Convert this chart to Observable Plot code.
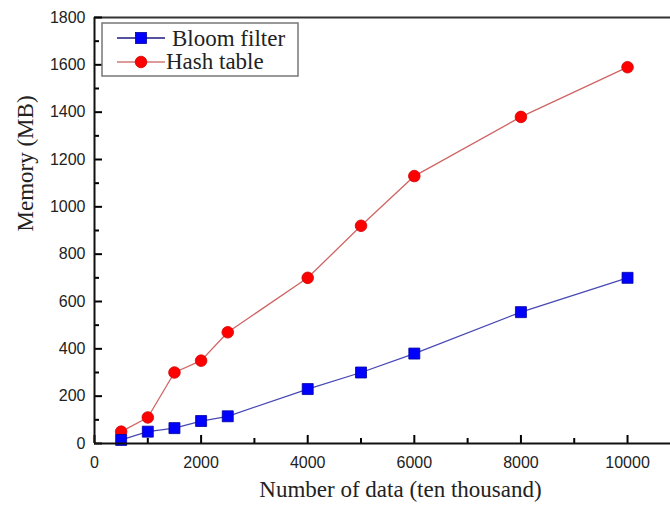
<!DOCTYPE html>
<html>
<head>
<meta charset="utf-8">
<script src="https://cdn.jsdelivr.net/npm/d3@7"></script>
<script src="https://cdn.jsdelivr.net/npm/@observablehq/plot@0.6"></script>
<style>
  html, body { margin: 0; padding: 0; background: #fff; }
  #chart svg { display: block; }
</style>
</head>
<body>
<div id="chart"></div>
<script>
// ---- data ----
const dataSizes = [500, 1000, 1500, 2000, 2500, 4000, 5000, 6000, 8000, 10000];
const bloomMemory = [15, 50, 65, 95, 115, 230, 300, 380, 555, 700];
const hashMemory = [50, 110, 300, 350, 470, 700, 920, 1130, 1380, 1590];
const seriesNames = ["Bloom filter", "Hash table"];
const xMajorTicks = [0, 2000, 4000, 6000, 8000, 10000];
const xMinorTicks = [1000, 3000, 5000, 7000, 9000];
const yMajorTicks = [0, 200, 400, 600, 800, 1000, 1200, 1400, 1600, 1800];
const yMinorTicks = [100, 300, 500, 700, 900, 1100, 1300, 1500, 1700];
const xTitle = "Number of data (ten thousand)";
const yTitle = "Memory (MB)";

const bloom = dataSizes.map((x, i) => ({x, y: bloomMemory[i]}));
const hash = dataSizes.map((x, i) => ({x, y: hashMemory[i]}));

const serif = "'Liberation Serif', 'Times New Roman', serif";
const sans = "'Liberation Sans', Arial, sans-serif";

const bloomLine = "#4848b4";
const hashLine = "#d06464";

const W = 670, H = 506, ML = 94, MR = 0, MT = 17, MB = 63;
const frameW = W - ML - MR, frameH = H - MT - MB;

const chart = Plot.plot({
  width: W,
  height: H,
  marginLeft: ML,
  marginRight: MR,
  marginTop: MT,
  marginBottom: MB,
  x: {domain: [0, 10806]},
  y: {domain: [0, 1800]},
  marks: [
    Plot.ruleY([1800], {stroke: "#333", strokeWidth: 2}),
    // inward ticks
    Plot.tickX(xMajorTicks, {x: d => d, stroke: "#000", strokeWidth: 2, insetTop: frameH - 8}),
    Plot.tickX(xMinorTicks, {x: d => d, stroke: "#000", strokeWidth: 2, insetTop: frameH - 5}),
    Plot.tickY(yMajorTicks, {y: d => d, stroke: "#000", strokeWidth: 2, insetRight: frameW - 8}),
    Plot.tickY(yMinorTicks, {y: d => d, stroke: "#000", strokeWidth: 2, insetRight: frameW - 5}),
    // tick labels
    Plot.axisX(xMajorTicks, {tickSize: 0, tickPadding: 13, tickFormat: d => String(d), fontSize: 16, fontFamily: sans, fill: "#222", label: null}),
    Plot.axisY(yMajorTicks, {tickSize: 0, tickPadding: 9, tickFormat: d => String(d), fontSize: 16, fontFamily: sans, fill: "#222", label: null}),
    // axis titles
    Plot.text([xTitle], {frameAnchor: "bottom", dx: 18, dy: 53, fontSize: 23, fontFamily: serif, fill: "#222"}),
    Plot.text([yTitle], {frameAnchor: "left", rotate: -90, dx: -69, dy: 1, fontSize: 23, fontFamily: serif, fill: "#222"}),
    // series
    Plot.line(hash, {x: "x", y: "y", stroke: hashLine, strokeWidth: 1.3}),
    Plot.line(bloom, {x: "x", y: "y", stroke: bloomLine, strokeWidth: 1.3}),
    Plot.dot(hash, {x: "x", y: "y", symbol: "circle", r: 5.8, fill: "#ff0000", stroke: "#d00000", strokeWidth: 0.8}),
    Plot.dot(bloom, {x: "x", y: "y", symbol: "square", r: 6.2, fill: "#0000ff", stroke: "#0000a0", strokeWidth: 0.8}),
    // axis lines
    Plot.ruleX([0], {stroke: "#111", strokeWidth: 2}),
    Plot.ruleY([0], {stroke: "#111", strokeWidth: 2})
  ]
});

// ---- legend ----
const svg = d3.select(chart);
const lg = svg.append("g").attr("text-anchor", "start");
lg.append("rect").attr("x", 102).attr("y", 23).attr("width", 196).attr("height", 53)
  .attr("fill", "#fff").attr("stroke", "#777").attr("stroke-width", 1.5);
lg.append("line").attr("x1", 117).attr("x2", 165).attr("y1", 38).attr("y2", 38)
  .attr("stroke", "#1a1a80").attr("stroke-width", 1.3);
lg.append("rect").attr("x", 141 - 5.5).attr("y", 38 - 5.5).attr("width", 11).attr("height", 11)
  .attr("fill", "#0000ff").attr("stroke", "#0000a0").attr("stroke-width", 0.8);
lg.append("text").attr("x", 172).attr("y", 46).attr("text-anchor", "start").text(seriesNames[0])
  .attr("font-family", serif).attr("font-size", 23).attr("fill", "#222");
lg.append("line").attr("x1", 117).attr("x2", 165).attr("y1", 62).attr("y2", 62)
  .attr("stroke", "#d07878").attr("stroke-width", 1.3);
lg.append("circle").attr("cx", 141).attr("cy", 62).attr("r", 5.8)
  .attr("fill", "#ff0000").attr("stroke", "#d00000").attr("stroke-width", 0.8);
lg.append("text").attr("x", 166).attr("y", 69).attr("text-anchor", "start").text(seriesNames[1])
  .attr("font-family", serif).attr("font-size", 23).attr("fill", "#222");

document.getElementById("chart").appendChild(chart);
</script>
</body>
</html>
